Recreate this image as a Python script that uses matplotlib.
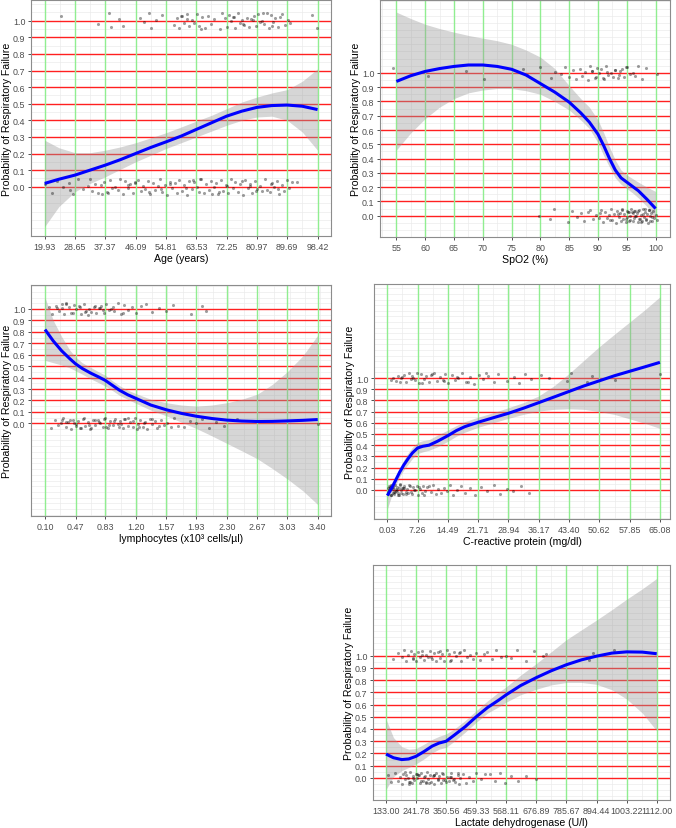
import matplotlib
matplotlib.use('Agg')
import matplotlib.pyplot as plt
import numpy as np

plt.rcParams['font.family'] = ['Liberation Sans', 'DejaVu Sans']

Y_TITLE = 'Probability of Respiratory Failure'
PROB_TICKS = [0.0, 0.1, 0.2, 0.3, 0.4, 0.5, 0.6, 0.7, 0.8, 0.9, 1.0]

# shared hand-read vertical jitter offsets for the outcome points
J = [0.031, -0.022, 0.044, -0.038, 0.012, -0.029, 0.019, -0.008, 0.047, -0.046,
     0.003, 0.036, -0.024, 0.015, -0.043, 0.026, -0.013, 0.041, -0.034, 0.006,
     -0.011, 0.039, -0.031, 0.021, -0.041, 0.028, -0.019, 0.009, -0.048, 0.049,
     0.014, -0.036, 0.033, -0.004, 0.024, -0.044, 0.045, -0.016, 0.002, -0.027,
     0.018, -0.039, 0.011, 0.029, -0.032, 0.042, -0.009, 0.000, -0.021, 0.048,
     -0.045, 0.034, -0.006, 0.016, -0.035, 0.023, 0.043, -0.026, 0.007, -0.014,
     0.037, -0.042, 0.025, -0.017, 0.004, 0.046, -0.033, 0.013, -0.049, 0.030,
     -0.007, 0.020, -0.037, 0.040, -0.023, 0.010, -0.047, 0.032, -0.012, 0.027,
     0.001, -0.030, 0.045, -0.040, 0.017, -0.018, 0.035, -0.002, 0.022, -0.044,
     0.038, -0.025, 0.008, -0.036, 0.047, -0.010, 0.026, -0.031, 0.014, -0.048,
     0.041, -0.005, 0.019, -0.039, 0.033, -0.015, 0.005, -0.028, 0.044, -0.020,
     -0.034, 0.024, -0.001, 0.036, -0.043, 0.011, -0.024, 0.039, -0.009, 0.029]

# ---------------- Age ----------------
age_ticks = [19.93, 28.65, 37.37, 46.09, 54.81, 63.53, 72.25, 80.97, 89.69, 98.42]
age_x = [19.93, 24, 28.65, 33, 37.37, 41.7, 46.09, 50.5, 54.81, 59.2, 63.53, 67.9,
         72.25, 76.6, 80.97, 85.3, 89.69, 94, 98.42]
age_fit = [0.02, 0.045, 0.07, 0.10, 0.13, 0.163, 0.20, 0.237, 0.27, 0.305, 0.345, 0.385,
           0.425, 0.455, 0.478, 0.489, 0.492, 0.485, 0.465]
age_lo = [-0.24, -0.12, -0.03, 0.02, 0.06, 0.105, 0.15, 0.19, 0.23, 0.265, 0.30, 0.335,
          0.37, 0.40, 0.42, 0.425, 0.40, 0.33, 0.22]
age_hi = [0.28, 0.235, 0.205, 0.205, 0.22, 0.24, 0.265, 0.295, 0.325, 0.36, 0.395, 0.43,
          0.47, 0.51, 0.54, 0.565, 0.585, 0.635, 0.71]
age_fail = [24.5, 35.2, 38.3, 39.0, 41.2, 42.4, 47.3, 48.5, 49.8, 50.6, 51.9, 53.8, 57.1, 57.9,
            58.6, 59.4, 60.1, 60.8, 61.5, 62.2, 62.9, 63.7, 64.4, 65.2, 66.0, 66.9, 67.8, 68.6,
            70.4, 71.0, 71.7, 72.3, 72.9, 73.6, 74.2, 74.8, 75.5, 76.1, 76.8, 77.4, 78.0, 78.7,
            79.3, 80.0, 80.6, 81.2, 81.9, 82.5, 83.1, 83.8, 84.4, 85.1, 85.7, 86.3, 87.0, 87.6,
            88.3, 89.0, 89.8, 90.6, 96.9, 98.4, 74.5, 77.0, 79.8, 82.8, 85.4, 61.0, 64.8, 59.0]
age_surv = [20.1, 22.0, 23.5, 25.2, 26.8, 28.0, 29.6, 31.0, 32.3, 33.5, 34.4, 35.3, 36.1, 37.0,
            37.8, 38.6, 39.3, 40.1, 40.9, 41.6, 42.4, 43.1, 43.9, 44.6, 45.3, 46.0, 46.8, 47.5,
            48.2, 48.9, 49.6, 50.3, 51.0, 51.7, 52.4, 53.1, 53.8, 54.5, 55.2, 55.9, 56.6, 57.3,
            58.0, 58.7, 59.4, 60.1, 60.8, 61.5, 62.2, 62.9, 63.6, 64.3, 65.0, 65.7, 66.4, 67.1,
            67.8, 68.5, 69.2, 69.9, 70.6, 71.3, 72.0, 72.7, 73.4, 74.1, 74.8, 75.5, 76.2, 76.9,
            77.6, 78.3, 79.0, 79.7, 80.4, 81.1, 81.8, 82.5, 83.2, 83.9, 84.6, 85.3, 86.0, 86.7,
            87.4, 88.1, 88.8, 89.5, 90.3, 91.2, 92.4, 27.2, 33.0, 38.0, 44.0, 50.0, 56.0, 60.5,
            64.6, 68.2, 72.4, 76.6, 80.8, 85.0, 36.5, 45.8, 53.3, 62.5, 70.1, 78.9, 86.9]

# ---------------- SpO2 ----------------
spo2_ticks = [55, 60, 65, 70, 75, 80, 85, 90, 95, 100]
spo2_x = [55, 57.5, 60, 62.5, 65, 67.5, 70, 72.5, 75, 77.5, 80, 82.5, 85, 87, 88.5, 90, 91,
          92, 93, 94, 95, 96, 97, 98.5, 100]
spo2_fit = [0.94, 0.98, 1.01, 1.03, 1.045, 1.055, 1.055, 1.045, 1.025, 0.985, 0.925, 0.865,
            0.795, 0.72, 0.655, 0.57, 0.49, 0.40, 0.32, 0.265, 0.235, 0.205, 0.175, 0.115, 0.05]
spo2_lo = [0.46, 0.58, 0.68, 0.76, 0.82, 0.86, 0.88, 0.89, 0.89, 0.875, 0.85, 0.80, 0.74,
           0.67, 0.61, 0.51, 0.42, 0.34, 0.265, 0.22, 0.19, 0.16, 0.125, 0.065, -0.02]
spo2_hi = [1.425, 1.38, 1.34, 1.31, 1.285, 1.262, 1.243, 1.225, 1.20, 1.16, 1.11, 1.03, 0.91,
           0.82, 0.76, 0.67, 0.58, 0.48, 0.39, 0.32, 0.285, 0.26, 0.235, 0.20, 0.17]
spo2_fail = [54.4, 60.5, 67.1, 70.2, 77.0, 77.6, 79.9, 81.8, 82.6, 83.5, 84.3, 85.0, 85.6, 86.2,
             86.8, 87.3, 87.8, 88.2, 88.6, 89.0, 89.4, 89.8, 90.2, 90.6, 91.0, 91.4, 91.8, 92.2,
             92.6, 93.0, 93.4, 93.8, 94.2, 94.6, 95.0, 95.5, 96.0, 96.5, 97.0, 97.6, 98.3, 100.3,
             88.9, 90.8, 92.9, 94.9, 89.6, 91.6, 93.6]
spo2_surv = [79.8, 81.7, 82.4, 84.8, 85.5, 86.3, 87.0, 87.6, 88.2, 88.7, 89.2, 89.7, 90.1, 90.5,
             90.9, 91.3, 91.6, 91.9, 92.2, 92.5, 92.8, 93.1, 93.3, 93.6, 93.8, 94.0, 94.2, 94.4,
             94.6, 94.8, 95.0, 95.1, 95.3, 95.5, 95.6, 95.8, 96.0, 96.1, 96.3, 96.5, 96.6, 96.8,
             97.0, 97.1, 97.3, 97.5, 97.6, 97.8, 98.0, 98.1, 98.3, 98.5, 98.6, 98.8, 99.0, 99.2,
             99.4, 99.6, 99.8, 100.0, 100.2, 94.1, 94.9, 95.4, 95.9, 96.4, 96.9, 97.4, 97.9, 98.4,
             98.9, 99.3, 95.2, 96.2, 97.2, 98.2, 99.1, 93.5, 92.0, 90.3]

# ---------------- Lymphocytes ----------------
lym_ticks = [0.10, 0.47, 0.83, 1.20, 1.57, 1.93, 2.30, 2.67, 3.03, 3.40]
lym_x = [0.10, 0.2, 0.3, 0.4, 0.47, 0.55, 0.65, 0.75, 0.83, 0.92, 1.0, 1.1, 1.2, 1.38, 1.57,
         1.75, 1.93, 2.12, 2.30, 2.48, 2.67, 2.85, 3.03, 3.22, 3.40]
lym_fit = [0.82, 0.72, 0.635, 0.565, 0.52, 0.48, 0.44, 0.405, 0.375, 0.33, 0.29, 0.25, 0.218,
           0.16, 0.118, 0.087, 0.062, 0.042, 0.028, 0.02, 0.016, 0.017, 0.021, 0.026, 0.033]
lym_lo = [0.55, 0.53, 0.51, 0.485, 0.46, 0.43, 0.39, 0.355, 0.325, 0.285, 0.245, 0.21, 0.175,
          0.115, 0.065, 0.01, -0.045, -0.11, -0.175, -0.24, -0.31, -0.395, -0.485, -0.59, -0.71]
lym_hi = [1.10, 0.90, 0.76, 0.64, 0.58, 0.53, 0.49, 0.45, 0.42, 0.37, 0.33, 0.29, 0.26, 0.21,
          0.18, 0.16, 0.15, 0.16, 0.18, 0.21, 0.255, 0.34, 0.45, 0.59, 0.77]
lym_fail = [0.15, 0.19, 0.23, 0.27, 0.30, 0.33, 0.36, 0.39, 0.42, 0.45, 0.48, 0.51, 0.54, 0.57,
            0.60, 0.63, 0.66, 0.69, 0.72, 0.75, 0.78, 0.81, 0.84, 0.87, 0.90, 0.94, 0.98, 1.02,
            1.06, 1.10, 1.15, 1.20, 1.26, 1.32, 1.40, 1.48, 1.56, 1.65, 1.87, 2.00, 2.05, 0.25,
            0.35, 0.44, 0.52, 0.62, 0.70, 0.80, 0.92, 1.04, 0.31, 0.58, 0.76]
lym_surv = [0.17, 0.22, 0.26, 0.29, 0.32, 0.35, 0.38, 0.41, 0.44, 0.47, 0.50, 0.53, 0.56, 0.59,
            0.62, 0.65, 0.68, 0.71, 0.74, 0.77, 0.80, 0.83, 0.86, 0.89, 0.92, 0.95, 0.98, 1.01,
            1.04, 1.07, 1.10, 1.13, 1.16, 1.19, 1.22, 1.25, 1.28, 1.31, 1.34, 1.37, 1.40, 1.43,
            1.46, 1.50, 1.54, 1.58, 1.62, 1.66, 1.71, 1.78, 1.85, 1.93, 2.00, 2.08, 2.17, 2.26,
            2.42, 3.40, 0.30, 0.40, 0.48, 0.57, 0.66, 0.75, 0.84, 0.93, 1.02, 1.11, 1.21, 1.30,
            1.39, 1.48, 0.36, 0.52, 0.70, 0.88, 1.06, 1.24, 0.45, 0.63, 0.81, 0.99, 1.17]

# ---------------- C-reactive protein ----------------
crp_ticks = [0.03, 7.26, 14.49, 21.71, 28.94, 36.17, 43.40, 50.62, 57.85, 65.08]
crp_x = [0.03, 1, 2, 3, 4, 5, 6, 7.26, 8.5, 10, 12, 14.49, 16.5, 18.5, 21.71, 25.3, 28.94,
         32.5, 36.17, 39.8, 43.40, 47, 50.62, 54.2, 57.85, 61.5, 65.08]
crp_fit = [-0.05, 0.01, 0.085, 0.16, 0.225, 0.28, 0.33, 0.375, 0.39, 0.40, 0.435, 0.485, 0.53,
           0.565, 0.605, 0.645, 0.685, 0.73, 0.78, 0.83, 0.88, 0.93, 0.975, 1.02, 1.06, 1.10, 1.14]
crp_lo = [-0.17, -0.06, 0.04, 0.12, 0.18, 0.23, 0.28, 0.325, 0.34, 0.355, 0.385, 0.435, 0.48,
          0.515, 0.56, 0.60, 0.64, 0.675, 0.705, 0.72, 0.725, 0.72, 0.70, 0.675, 0.635, 0.595, 0.55]
crp_hi = [0.02, 0.06, 0.12, 0.20, 0.27, 0.33, 0.38, 0.425, 0.44, 0.45, 0.49, 0.535, 0.575,
          0.61, 0.65, 0.69, 0.735, 0.78, 0.84, 0.93, 1.04, 1.16, 1.28, 1.39, 1.50, 1.61, 1.725]
crp_fail = [0.9, 1.5, 2.0, 2.6, 3.1, 3.6, 4.1, 4.6, 5.1, 5.6, 6.1, 6.6, 7.1, 7.6, 8.1, 8.7, 9.3,
            9.9, 10.5, 11.1, 11.8, 12.5, 13.2, 13.9, 14.6, 15.4, 16.2, 17.0, 17.9, 18.8, 19.7,
            20.7, 21.8, 22.9, 24.1, 25.4, 26.5, 28.7, 30.2, 31.5, 33.0, 34.2, 36.7, 38.5, 42.9,
            43.9, 47.6, 48.8, 54.4, 65.0, 3.4, 5.9, 8.4, 10.8, 13.5, 16.6, 19.2, 23.5]
crp_surv = [0.1, 0.2, 0.3, 0.4, 0.5, 0.7, 0.9, 1.1, 1.3, 1.5, 1.7, 1.9, 2.1, 2.3, 2.5, 2.7, 2.9,
            3.1, 3.3, 3.5, 3.8, 4.1, 4.4, 4.7, 5.0, 5.3, 5.6, 5.9, 6.2, 6.6, 7.0, 7.4, 7.8, 8.2,
            8.6, 9.0, 9.5, 10.0, 10.5, 11.0, 11.6, 12.2, 12.8, 13.5, 14.2, 15.0, 15.8, 16.7, 17.6,
            18.6, 19.7, 21.0, 22.4, 23.8, 25.5, 27.0, 28.5, 30.1, 32.0, 33.9, 0.6, 1.0, 1.4, 1.8,
            2.2, 2.6, 3.0, 3.7, 4.5, 5.4, 6.4, 7.6, 8.9, 0.8, 1.6, 2.4, 3.2, 4.0]

# ---------------- Lactate dehydrogenase ----------------
ldh_ticks = [133.00, 241.78, 350.56, 459.33, 568.11, 676.89, 785.67, 894.44, 1003.22, 1112.00]
ldh_x = [133, 160, 190, 215, 241.78, 270, 300, 325, 350.56, 380, 420, 459.33, 500, 540, 568.11,
         620, 676.89, 730, 785.67, 840, 894.44, 950, 1003.22, 1060, 1112]
ldh_fit = [0.195, 0.165, 0.15, 0.155, 0.177, 0.215, 0.26, 0.285, 0.30, 0.35, 0.42, 0.50, 0.575,
           0.635, 0.68, 0.755, 0.82, 0.875, 0.925, 0.965, 0.995, 1.02, 1.03, 1.028, 1.015]
ldh_lo = [-0.095, 0.01, 0.06, 0.085, 0.115, 0.155, 0.205, 0.235, 0.25, 0.30, 0.375, 0.455, 0.53,
          0.58, 0.62, 0.68, 0.725, 0.76, 0.78, 0.78, 0.765, 0.72, 0.645, 0.53, 0.385]
ldh_hi = [0.48, 0.33, 0.255, 0.235, 0.24, 0.275, 0.315, 0.34, 0.36, 0.40, 0.47, 0.55, 0.63, 0.70,
          0.745, 0.84, 0.935, 1.03, 1.13, 1.21, 1.29, 1.375, 1.46, 1.545, 1.63]
ldh_fail = [157, 175, 190, 198, 206, 214, 222, 229, 236, 243, 250, 257, 264, 271, 278, 285, 292,
            299, 306, 313, 320, 328, 336, 344, 352, 360, 369, 378, 387, 396, 405, 415, 425, 436,
            448, 460, 473, 487, 500, 515, 530, 548, 566, 585, 605, 640, 668, 700, 712, 868, 880,
            959, 230, 262, 295, 330, 365, 400]
ldh_surv = [139, 152, 165, 176, 184, 190, 196, 201, 206, 211, 216, 221, 226, 231, 236, 241, 246,
            251, 256, 261, 266, 271, 276, 281, 286, 291, 296, 302, 308, 314, 320, 326, 332, 339,
            346, 353, 360, 368, 376, 384, 393, 402, 412, 422, 434, 447, 460, 475, 490, 508, 526,
            545, 565, 585, 612, 640, 676, 200, 215, 230, 245, 260, 275, 290, 305, 320, 335, 350,
            365, 380, 395, 218, 248, 278, 308, 338, 368, 398]

fig = plt.figure(figsize=(6.76, 8.29), dpi=100)


def jit(vals, level, start):
    return [level + J[(start + i) % len(J)] for i in range(len(vals))]


def panel(rect, ticks, labels, xlab, xlim, ylim, cx, fit, lo, hi, fail, surv, s1, s2):
    ax = fig.add_axes(rect)
    ax.set_facecolor('white')
    step = ticks[1] - ticks[0]
    for v in np.arange(ticks[0] - 2 * step, ticks[-1] + 2.01 * step, step / 2):
        ax.axvline(v, color='#ebebeb', lw=0.5, zorder=0)
    for v in np.arange(-1.0, 2.01, 0.05):
        ax.axhline(v, color='#ebebeb', lw=0.5, zorder=0)
    for v in PROB_TICKS:
        ax.axhline(v, color='#ff2020', lw=1.0, zorder=1)
    for v in ticks:
        ax.axvline(v, color='#90ee90', lw=1.0, zorder=1)
    ax.fill_between(cx, lo, hi, color='#999999', alpha=0.4, lw=0, zorder=2)
    ax.scatter(fail, jit(fail, 1.0, s1), s=5, c='black', alpha=0.38, lw=0, zorder=3)
    ax.scatter(surv, jit(surv, 0.0, s2), s=5, c='black', alpha=0.38, lw=0, zorder=3)
    ax.plot(cx, fit, color='#0000ff', lw=2.2, zorder=4, solid_capstyle='butt')
    ax.set_xlim(xlim)
    ax.set_ylim(ylim)
    ax.set_xticks(ticks)
    ax.set_xticklabels(labels)
    ax.set_yticks(PROB_TICKS)
    ax.set_yticklabels([f'{v:.1f}' for v in PROB_TICKS])
    ax.tick_params(labelsize=6.4, labelcolor='#4d4d4d', color='#333333',
                   length=2.5, width=0.6, pad=1.5)
    for s in ax.spines.values():
        s.set_color('#8c8c8c')
        s.set_linewidth(0.8)
    ax.set_xlabel(xlab, fontsize=7.6, labelpad=1.5)
    ax.set_ylabel(Y_TITLE, fontsize=7.6, labelpad=0.5)
    return ax


panel([0.0459, 0.7141, 0.4438, 0.2847], age_ticks, [f'{t:.2f}' for t in age_ticks],
      'Age (years)', (16.0, 102.3), (-0.297, 1.125),
      age_x, age_fit, age_lo, age_hi, age_fail, age_surv, 0, 30)
panel([0.5621, 0.7129, 0.4290, 0.2859], spo2_ticks, [str(t) for t in spo2_ticks],
      'SpO2 (%)', (52.15, 102.5), (-0.149, 1.51),
      spo2_x, spo2_fit, spo2_lo, spo2_hi, spo2_fail, spo2_surv, 11, 47)
panel([0.0459, 0.3764, 0.4438, 0.2787], lym_ticks, [f'{t:.2f}' for t in lym_ticks],
      'lymphocytes (x10³ cells/µl)', (-0.069, 3.561), (-0.81, 1.21),
      lym_x, lym_fit, lym_lo, lym_hi, lym_fail, lym_surv, 23, 61)
panel([0.5533, 0.3727, 0.4379, 0.2835], crp_ticks, [f'{t:.2f}' for t in crp_ticks],
      'C-reactive protein (mg/dl)', (-3.14, 67.5), (-0.26, 1.84),
      crp_x, crp_fit, crp_lo, crp_hi, crp_fail, crp_surv, 37, 83)
panel([0.5518, 0.0338, 0.4393, 0.2835], ldh_ticks, [f'{t:.2f}' for t in ldh_ticks],
      'Lactate dehydrogenase (U/l)', (86.0, 1160.0), (-0.18, 1.74),
      ldh_x, ldh_fit, ldh_lo, ldh_hi, ldh_fail, ldh_surv, 5, 71)

fig.savefig('out.png', dpi=100, facecolor='white')
